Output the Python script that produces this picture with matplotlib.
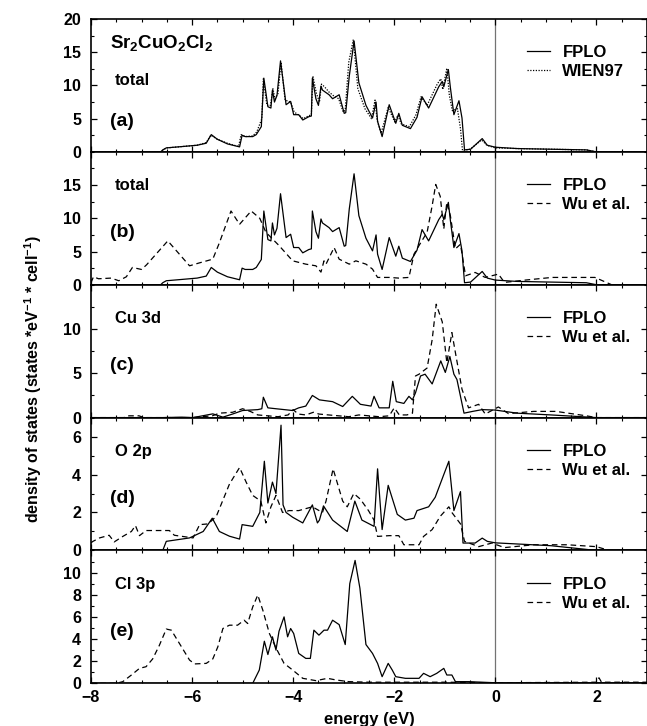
import numpy as np
import matplotlib
matplotlib.use("Agg")
import matplotlib.pyplot as plt
from matplotlib.ticker import MultipleLocator

plt.rcParams["font.family"] = ["Liberation Sans", "DejaVu Sans"]
plt.rcParams["font.weight"] = "bold"
plt.rcParams["mathtext.fontset"] = "custom"
plt.rcParams["mathtext.rm"] = "Liberation Sans:bold"
plt.rcParams["mathtext.it"] = "Liberation Sans:bold"
plt.rcParams["mathtext.bf"] = "Liberation Sans:bold"
plt.rcParams["mathtext.default"] = "rm"

# ---- data ----
# total DOS, FPLO (panels a and b)
fplo_tot_x = [-8, -6.62, -6.58, -6.51, -6.2, -5.9, -5.72, -5.62, -5.5, -5.3, -5.06, -5.01, -4.95, -4.8,
              -4.73, -4.63, -4.58, -4.50, -4.44, -4.41, -4.37, -4.32, -4.25, -4.14, -4.05, -3.99, -3.89,
              -3.81, -3.69, -3.64, -3.62, -3.55, -3.50, -3.45, -3.42, -3.29, -3.22, -3.09, -2.99, -2.96,
              -2.89, -2.795, -2.70, -2.56, -2.43, -2.36, -2.33, -2.24, -2.10, -1.97, -1.91, -1.84, -1.68,
              -1.55, -1.45, -1.32, -1.12, -1.05, -1.02, -0.93, -0.89, -0.82, -0.72, -0.66, -0.61, -0.49,
              -0.26, -0.16, 0.0, 0.43, 1.1, 1.8, 2.0, 3.0]
fplo_tot_y = [0, 0, 0.3, 0.6, 0.8, 1.0, 1.3, 2.6, 1.9, 1.2, 0.75, 2.5, 2.3, 2.3,
              2.6, 3.8, 11.1, 6.8, 6.6, 9.3, 7.5, 8.5, 13.7, 7.1, 7.6, 5.6, 5.6,
              4.8, 5.3, 5.4, 11.1, 8.0, 7.0, 9.9, 9.3, 8.6, 8.0, 8.6, 5.8, 5.9,
              11.4, 16.7, 10.4, 7.0, 5.1, 7.5, 4.6, 2.3, 7.1, 4.3, 5.8, 4.0, 3.5,
              5.2, 8.3, 6.6, 9.8, 10.6, 9.8, 12.4, 9.7, 5.6, 7.7, 5.1, 0.3, 0.4,
              2.0, 1.0, 0.7, 0.5, 0.4, 0.3, 0.0, 0.0]

# total DOS, WIEN97 (panel a)
wien_tot_x = [-8, -6.62, -6.55, -6.5, -6.2, -5.9, -5.72, -5.63, -5.5, -5.3, -5.08, -5.03, -4.95, -4.8,
              -4.72, -4.62, -4.59, -4.52, -4.45, -4.40, -4.36, -4.30, -4.24, -4.16, -4.05, -3.98, -3.88,
              -3.80, -3.70, -3.64, -3.61, -3.54, -3.48, -3.44, -3.38, -3.29, -3.21, -3.10, -3.01, -2.97,
              -2.90, -2.81, -2.72, -2.58, -2.45, -2.38, -2.34, -2.26, -2.12, -1.99, -1.93, -1.86, -1.70,
              -1.57, -1.47, -1.35, -1.15, -1.08, -1.04, -0.96, -0.91, -0.85, -0.75, -0.69, -0.65, -0.50,
              -0.27, -0.17, 0.0, 0.43, 1.1, 1.8, 2.0, 3.0]
wien_tot_y = [0, 0, 0.4, 0.6, 0.8, 1.0, 1.4, 2.5, 1.9, 1.3, 0.8, 2.6, 2.3, 2.4,
              3.0, 5.0, 11.0, 7.0, 7.0, 9.5, 8.0, 8.8, 13.5, 7.8, 7.5, 6.0, 5.5,
              5.0, 5.4, 5.6, 11.4, 8.8, 7.5, 10.2, 9.8, 9.0, 8.5, 8.0, 6.0, 6.3,
              13.5, 16.9, 9.5, 6.5, 5.0, 7.8, 4.8, 2.8, 6.7, 4.5, 5.5, 4.2, 3.8,
              5.6, 8.3, 7.0, 10.2, 11.0, 9.4, 12.6, 8.5, 6.2, 6.5, 3.5, 0.2, 0.4,
              1.8, 1.0, 0.6, 0.5, 0.4, 0.3, 0.0, 0.0]

# total DOS, Wu et al. (panel b)
wu_tot_x = [-8.0, -7.95, -7.85, -7.6, -7.45, -7.3, -7.18, -7.0, -6.9, -6.48, -6.05, -5.85, -5.59, -5.46,
            -5.23, -5.06, -4.83, -4.66, -4.54, -4.28, -4.01, -3.75, -3.55, -3.45, -3.39, -3.35, -3.19,
            -3.09, -2.89, -2.76, -2.56, -2.43, -2.33, -2.10, -1.91, -1.71, -1.61, -1.51, -1.35, -1.25,
            -1.18, -1.09, -1.02, -0.96, -0.89, -0.79, -0.69, -0.59, -0.40, -0.20, 0.06, 0.18, 0.59,
            1.12, 1.51, 1.97, 2.3, 3.0]
wu_tot_y = [0.3, 1.2, 0.9, 1.0, 0.6, 1.2, 2.6, 2.3, 3.0, 6.6, 2.85, 3.3, 3.85, 6.3,
            11.1, 9.1, 11.1, 10.0, 7.9, 5.9, 3.6, 3.1, 2.85, 1.9, 3.6, 3.1, 5.6,
            3.85, 3.1, 3.6, 3.1, 2.35, 1.1, 1.1, 1.0, 1.1, 4.6, 5.9, 7.9, 11.9,
            15.1, 13.3, 8.4, 12.4, 10.4, 5.4, 6.1, 1.35, 1.85, 1.1, 1.6, 0.35, 0.7,
            1.1, 1.1, 1.1, 0, 0]

# Cu 3d
fplo_cu_x = [-8, -6.6, -6.2, -5.98, -5.59, -5.39, -5.2, -5.0, -4.7, -4.62, -4.59, -4.50, -4.34, -4.01,
             -3.89, -3.75, -3.62, -3.48, -3.22, -3.02, -2.83, -2.67, -2.46, -2.40, -2.30, -2.10, -2.03,
             -1.96, -1.81, -1.71, -1.64, -1.58, -1.48, -1.39, -1.25, -1.08, -0.99, -0.90, -0.82, -0.76,
             -0.62, -0.45, -0.26, 0.0, 0.43, 1.1, 2.0, 3.0]
fplo_cu_y = [0, 0, 0.05, 0.0, 0.42, 0.05, 0.4, 0.8, 0.9, 1.0, 2.3, 1.1, 1.0, 0.8,
             1.1, 1.3, 2.5, 2.0, 1.8, 1.25, 2.4, 1.5, 1.3, 2.4, 1.1, 1.1, 4.1,
             1.8, 1.6, 2.4, 2.0, 2.8, 4.7, 4.9, 3.8, 6.4, 5.1, 6.9, 4.9, 4.3,
             0.5, 0.7, 0.9, 0.85, 0.5, 0.3, 0.0, 0.0]
wu_cu_x = [-8, -7.35, -7.25, -7.05, -6.95, -6.0, -5.6, -5.46, -5.2, -5.0, -4.85, -4.7, -4.5, -4.3,
           -4.1, -4.0, -3.9, -3.75, -3.6, -3.49, -3.3, -3.1, -2.9, -2.7, -2.5, -2.3, -2.1, -2.0, -1.9,
           -1.75, -1.64, -1.58, -1.51, -1.35, -1.25, -1.17, -1.05, -0.96, -0.86, -0.78, -0.66, -0.53,
           -0.33, -0.20, 0.06, 0.26, 0.76, 1.2, 1.8, 2.0, 3.0]
wu_cu_y = [0, 0, 0.2, 0.2, 0, 0, 0.2, 0.5, 0.6, 1.0, 0.7, 0.3, 0.2, 0.1,
           0.3, 0.9, 0.4, 0.3, 0.6, 0.4, 0.3, 0.2, 0.1, 0.3, 0.2, 0.1, 0.2, 1.1, 0.3,
           0.3, 0.5, 4.7, 4.9, 5.6, 8.8, 12.8, 10.8, 6.2, 9.6, 7.0, 3.2, 1.1,
           1.5, 0.4, 1.2, 0.45, 0.7, 0.7, 0.2, 0.0, 0.0]

# O 2p
fplo_o_x = [-8, -6.58, -6.51, -6.05, -5.78, -5.60, -5.46, -5.26, -5.06, -5.01, -4.80, -4.66, -4.57,
            -4.50, -4.41, -4.34, -4.24, -4.20, -4.14, -4.01, -3.81, -3.62, -3.52, -3.48, -3.40, -3.22,
            -2.93, -2.78, -2.64, -2.40, -2.33, -2.24, -2.12, -1.94, -1.78, -1.61, -1.55, -1.32, -1.19,
            -1.02, -0.92, -0.82, -0.69, -0.64, -0.40, -0.26, -0.16, 0.0, 1.1, 2.0, 3.0]
fplo_o_y = [0, 0, 0.48, 0.66, 1.0, 1.7, 1.0, 0.75, 0.6, 1.36, 1.27, 2.0, 4.7,
            2.5, 3.6, 3.0, 6.6, 2.4, 2.0, 1.75, 1.45, 2.4, 1.45, 1.6, 2.35, 1.6,
            1.0, 2.6, 1.6, 1.27, 4.3, 1.1, 3.43, 1.9, 1.6, 1.7, 2.1, 2.3, 2.8,
            4.0, 4.7, 2.1, 3.1, 0.39, 0.39, 0.65, 0.48, 0.4, 0.25, 0.0, 0.0]
wu_o_x = [-8, -7.96, -7.83, -7.64, -7.54, -7.37, -7.20, -7.12, -7.04, -6.91, -6.45, -6.35, -5.98,
          -5.85, -5.68, -5.52, -5.26, -5.06, -4.93, -4.80, -4.64, -4.54, -4.44, -4.34, -4.21, -4.08,
          -3.89, -3.62, -3.42, -3.35, -3.21, -3.02, -2.93, -2.80, -2.67, -2.51, -2.40, -2.33, -2.10,
          -1.91, -1.81, -1.51, -1.42, -1.25, -1.09, -0.92, -0.86, -0.69, -0.61, -0.33, -0.07, 0.18,
          0.76, 1.42, 2.0, 2.25, 3.0]
wu_o_y = [0.4, 0.48, 0.66, 0.8, 0.45, 0.74, 1.0, 1.31, 0.78, 1.05, 1.05, 0.8, 0.66,
          1.36, 1.4, 1.8, 3.5, 4.37, 3.6, 2.9, 2.6, 1.45, 2.3, 2.9, 2.0, 2.1,
          2.1, 2.3, 2.0, 2.6, 4.3, 2.6, 2.3, 3.0, 2.7, 2.1, 1.6, 0.74, 0.78,
          0.78, 0.3, 0.3, 0.74, 1.1, 1.8, 2.3, 2.0, 1.4, 0.48, 0.2, 0.39, 0.15,
          0.3, 0.3, 0.2, 0.0, 0.0]

# Cl 3p
fplo_cl_x = [-8, -4.80, -4.67, -4.57, -4.50, -4.41, -4.34, -4.28, -4.18, -4.11, -4.05, -3.99, -3.89,
             -3.75, -3.66, -3.59, -3.49, -3.39, -3.32, -3.22, -3.09, -2.97, -2.88, -2.775, -2.68, -2.56,
             -2.43, -2.33, -2.24, -2.12, -2.04, -1.97, -1.78, -1.51, -1.42, -1.29, -1.16, -1.02, -0.96,
             -0.86, -0.79, -0.53, 0.0, 3.0]
fplo_cl_y = [0, 0, 1.2, 3.8, 2.6, 4.2, 3.0, 4.7, 6.0, 4.2, 4.95, 4.5, 2.7,
             2.25, 2.25, 4.8, 4.35, 4.8, 4.8, 5.7, 5.3, 3.5, 9.0, 11.1, 8.6, 3.5,
             2.7, 1.8, 0.6, 1.8, 1.2, 0.6, 0.45, 0.45, 0.9, 0.6, 0.9, 1.35, 0.75,
             0.75, 0.15, 0.15, 0.05, 0.05]
wu_cl_x = [-8, -7.50, -7.37, -7.20, -7.04, -6.91, -6.78, -6.65, -6.51, -6.41, -6.25, -6.05, -5.95,
           -5.72, -5.59, -5.49, -5.39, -5.26, -5.10, -4.97, -4.90, -4.80, -4.70, -4.60, -4.47, -4.34,
           -4.18, -4.01, -3.81, -3.55, -3.32, -3.15, -2.9, -2.5, -1.0, 0.0, 2.0, 2.05, 2.1, 3.0]
wu_cl_y = [0, 0, 0.15, 0.75, 1.35, 1.5, 2.2, 3.4, 4.9, 4.8, 3.6, 2.1, 1.75,
           1.8, 2.2, 3.3, 4.95, 5.25, 5.25, 5.7, 5.4, 6.9, 7.97, 6.6, 4.5, 3.2,
           1.8, 1.2, 0.45, 0.24, 0.45, 0.3, 0.15, 0.1, 0.1, 0.05, 0.1, 0.5, 0.1, 0.1]

# ---- figure ----
fig, axes = plt.subplots(5, 1, sharex=True, figsize=(6.47, 7.26), dpi=100)
fig.subplots_adjust(left=0.1406, right=1.0, top=0.9738, bottom=0.0588, hspace=0)

solid = dict(color="black", lw=0.9)
dashed = dict(color="black", lw=0.9, dashes=(4.5, 3))
dotted = dict(color="black", lw=0.9, dashes=(1, 1.2))

panels = [
    # (ax, curves, ylim, yticks, major, minor, labels)
    (axes[0], [(fplo_tot_x, fplo_tot_y, solid, "FPLO"), (wien_tot_x, wien_tot_y, dotted, "WIEN97")],
     20, [0, 5, 10, 15, 20], 5, 2.5, ["total", "(a)"]),
    (axes[1], [(fplo_tot_x, fplo_tot_y, solid, "FPLO"), (wu_tot_x, wu_tot_y, dashed, "Wu et al.")],
     20, [0, 5, 10, 15], 5, 2.5, ["total", "(b)"]),
    (axes[2], [(fplo_cu_x, fplo_cu_y, solid, "FPLO"), (wu_cu_x, wu_cu_y, dashed, "Wu et al.")],
     15, [0, 5, 10], 5, 2.5, ["Cu 3d", "(c)"]),
    (axes[3], [(fplo_o_x, fplo_o_y, solid, "FPLO"), (wu_o_x, wu_o_y, dashed, "Wu et al.")],
     7, [0, 2, 4, 6], 2, 1, ["O 2p", "(d)"]),
    (axes[4], [(fplo_cl_x, fplo_cl_y, solid, "FPLO"), (wu_cl_x, wu_cl_y, dashed, "Wu et al.")],
     12, [0, 2, 4, 6, 8, 10], 2, 1, ["Cl 3p", "(e)"]),
]

for ax, curves, ytop, yt, maj, mnr, labels in panels:
    for xs, ys, style, name in curves:
        ax.plot(xs, ys, label=name, **style)
    ax.axvline(0, color="0.45", lw=0.9, zorder=0)
    ax.set_xlim(-8, 3)
    ax.set_ylim(0, ytop)
    ax.set_yticks(yt)
    ax.yaxis.set_minor_locator(MultipleLocator(mnr))
    ax.xaxis.set_major_locator(MultipleLocator(2))
    ax.xaxis.set_minor_locator(MultipleLocator(0.5))
    ax.tick_params(which="both", direction="in", top=True, right=True, labelsize=11.5)
    ax.tick_params(which="major", length=4.3, width=0.9)
    ax.tick_params(which="minor", length=2.5, width=0.8)
    ax.tick_params(axis="y", pad=7)
    ax.tick_params(axis="x", pad=5)
    for sp in ax.spines.values():
        sp.set_linewidth(1.2)
    ax.text(0.043, 0.745 if ax is not axes[0] else 0.54, labels[0], transform=ax.transAxes,
            fontsize=12, fontweight="bold", va="center")
    ax.text(0.034, 0.39 if ax is not axes[0] else 0.23, labels[1], transform=ax.transAxes,
            fontsize=14, fontweight="bold", va="center")
    ax.legend(loc="center left", bbox_to_anchor=(0.785, 0.675), frameon=False, fontsize=12,
              handlelength=1.35, handletextpad=0.75, labelspacing=0.25, borderpad=0, borderaxespad=0)

axes[0].text(0.034, 0.82, r"Sr$_2$CuO$_2$Cl$_2$", transform=axes[0].transAxes,
             fontsize=13.5, fontweight="bold", va="center")

fig.text(0.051, 0.478, r"density of states (states *eV$^{-1}$ * cell$^{-1}$)", rotation=90,
         ha="center", va="center", fontsize=11.5, fontweight="bold")
fig.text(0.571, 0.0096, "energy (eV)", ha="center", va="center", fontsize=12, fontweight="bold")

fig.savefig("out.png", dpi=100)
